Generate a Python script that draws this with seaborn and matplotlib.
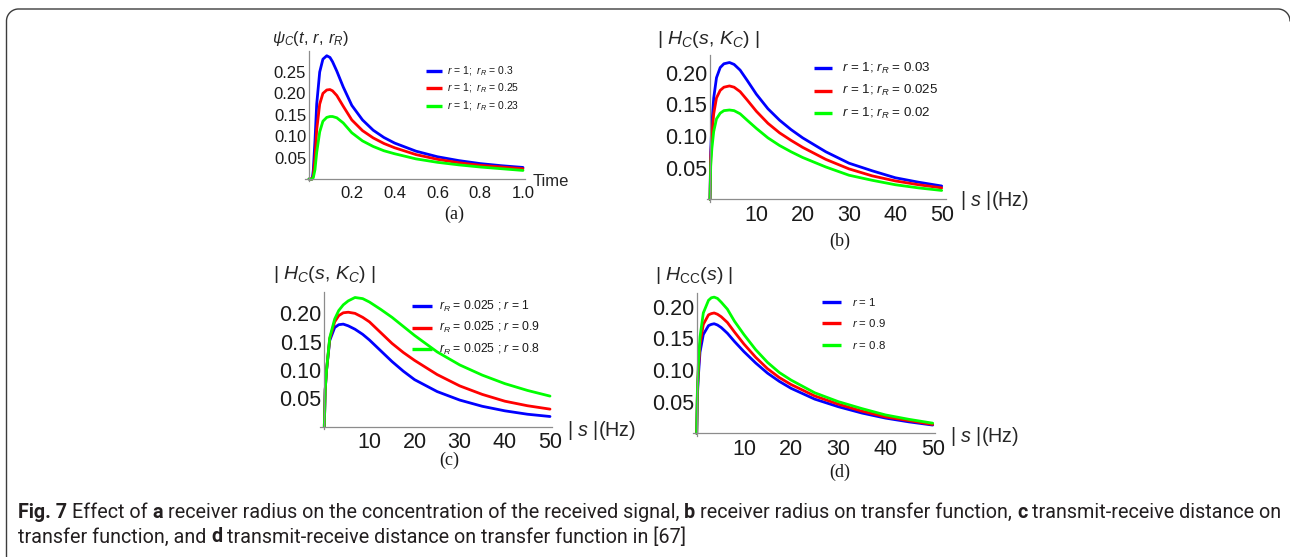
import numpy as np
import pandas as pd
import matplotlib
matplotlib.use("Agg")
import matplotlib.pyplot as plt
import seaborn as sns
from matplotlib.ticker import FixedLocator, MultipleLocator, FormatStrFormatter
from matplotlib.lines import Line2D

# ---------------- data ----------------
# (a) concentration vs time
t_a = [0, 0.015, 0.02, 0.028, 0.036, 0.05, 0.065, 0.083, 0.098, 0.11, 0.13, 0.16,
       0.2, 0.25, 0.3, 0.35, 0.4, 0.5, 0.6, 0.7, 0.8, 0.9, 1.0]
a_blue = [0, 0, 0.02, 0.09, 0.175, 0.25, 0.28, 0.288, 0.284, 0.274, 0.252, 0.215,
          0.172, 0.138, 0.114, 0.097, 0.084, 0.065, 0.052, 0.043, 0.036, 0.031, 0.027]
a_red = [0, 0, 0.008, 0.05, 0.115, 0.175, 0.200, 0.208, 0.209, 0.206, 0.195, 0.170,
         0.138, 0.113, 0.096, 0.083, 0.073, 0.057, 0.046, 0.038, 0.032, 0.028, 0.024]
a_green = [0, 0, 0.003, 0.022, 0.062, 0.110, 0.135, 0.144, 0.146, 0.146, 0.143, 0.131,
           0.108, 0.089, 0.076, 0.066, 0.059, 0.047, 0.039, 0.033, 0.028, 0.024, 0.020]
a_labels = [r"$r$ = 1;  $r_R$ = 0.3", r"$r$ = 1;  $r_R$ = 0.25", r"$r$ = 1;  $r_R$ = 0.23"]

# (b) transfer function, receiver radius
s_b = [0, 0.15, 0.4, 0.8, 1.4, 2.2, 3, 4.2, 5.2, 6.5, 8, 10, 12.5, 15, 17.5, 20, 25, 30, 35,
       40, 45, 50]
b_blue = [0, 0.075, 0.118, 0.160, 0.192, 0.208, 0.214, 0.216, 0.213, 0.204, 0.188, 0.166,
          0.143, 0.125, 0.110, 0.097, 0.075, 0.057, 0.045, 0.034, 0.027, 0.021]
b_red = [0, 0.065, 0.100, 0.135, 0.160, 0.172, 0.177, 0.179, 0.177, 0.170, 0.157, 0.139,
         0.120, 0.105, 0.093, 0.082, 0.063, 0.048, 0.037, 0.029, 0.023, 0.018]
b_green = [0, 0.052, 0.080, 0.107, 0.127, 0.136, 0.140, 0.141, 0.140, 0.135, 0.125, 0.112,
           0.097, 0.085, 0.075, 0.066, 0.051, 0.038, 0.030, 0.023, 0.018, 0.014]
b_labels = [r"$r$ = 1; $r_R$ = 0.03", r"$r$ = 1; $r_R$ = 0.025", r"$r$ = 1; $r_R$ = 0.02"]

# (c) transfer function, transmit-receive distance
s_c = [0, 0.2, 0.5, 1.2, 2.3, 3.2, 4.2, 5.3, 6.8, 8.5, 10, 12.5, 15, 17.5, 20, 25, 30, 35,
       40, 45, 50]
c_blue = [0, 0.065, 0.100, 0.152, 0.175, 0.180, 0.181, 0.178, 0.172, 0.163, 0.153, 0.134,
          0.115, 0.098, 0.083, 0.062, 0.047, 0.036, 0.028, 0.022, 0.018]
c_red = [0, 0.065, 0.100, 0.155, 0.185, 0.196, 0.201, 0.202, 0.200, 0.193, 0.185, 0.166,
         0.147, 0.131, 0.117, 0.092, 0.072, 0.057, 0.045, 0.037, 0.031]
c_green = [0, 0.065, 0.100, 0.157, 0.190, 0.205, 0.215, 0.222, 0.228, 0.226, 0.220, 0.207,
           0.193, 0.177, 0.161, 0.132, 0.109, 0.091, 0.076, 0.064, 0.054]
c_labels = [r"$r_R$ = 0.025 ; $r$ = 1", r"$r_R$ = 0.025 ; $r$ = 0.9", r"$r_R$ = 0.025 ; $r$ = 0.8"]

# (d) transfer function in [67]
s_d = [0, 0.15, 0.35, 0.7, 1.4, 2.5, 3.1, 3.7, 4.4, 5.2, 6.5, 8, 10, 12.5, 15, 17.5, 20, 25,
       30, 35, 40, 45, 50]
d_blue = [0, 0.06, 0.09, 0.128, 0.156, 0.170, 0.172, 0.173, 0.171, 0.167, 0.158, 0.145,
          0.129, 0.111, 0.095, 0.082, 0.071, 0.054, 0.042, 0.032, 0.024, 0.018, 0.013]
d_red = [0, 0.065, 0.10, 0.140, 0.172, 0.187, 0.189, 0.190, 0.188, 0.184, 0.175, 0.160,
         0.141, 0.120, 0.102, 0.088, 0.077, 0.059, 0.046, 0.035, 0.026, 0.020, 0.014]
d_green = [0, 0.07, 0.11, 0.152, 0.190, 0.210, 0.214, 0.215, 0.213, 0.207, 0.196, 0.177,
           0.156, 0.132, 0.112, 0.096, 0.084, 0.064, 0.050, 0.039, 0.029, 0.022, 0.016]
d_labels = [r"$r$ = 1", r"$r$ = 0.9", r"$r$ = 0.8"]

a_xticks = [0.2, 0.4, 0.6, 0.8, 1.0]
a_yticks = [0.05, 0.10, 0.15, 0.20, 0.25]
f_xticks = [10, 20, 30, 40, 50]
f_yticks = [0.05, 0.10, 0.15, 0.20]

COLORS = ["#0000ff", "#ff0000", "#00ff00"]

# ---------------- style ----------------
sns.set_theme(style="white")
plt.rcParams['font.family'] = ['Liberation Sans', 'DejaVu Sans']
plt.rcParams['mathtext.fontset'] = 'custom'
plt.rcParams['mathtext.rm'] = 'Liberation Sans'
plt.rcParams['mathtext.it'] = 'Liberation Sans:italic'
plt.rcParams['mathtext.bf'] = 'Liberation Sans:bold'

W, H = 1290, 557
fig = plt.figure(figsize=(W / 100, H / 100), dpi=100)
fig.patch.set_facecolor("white")
AX_COL = "#8c8c8c"


def make_ax(x0, sx, y0, sy, xlim, ylim, xt, yt, xfmt, yfmt, xminor, yminor, lsize, xpad):
    left = x0 + sx * xlim[0]
    right = x0 + sx * xlim[1]
    bottom = y0 - sy * ylim[0]
    top = y0 - sy * ylim[1]
    ax = fig.add_axes([left / W, 1 - bottom / H, (right - left) / W, (bottom - top) / H])
    ax.set_xlim(xlim)
    ax.set_ylim(ylim)
    ax.patch.set_alpha(0)
    for s in ['top', 'right']:
        ax.spines[s].set_visible(False)
    ax.spines['left'].set_position(('data', 0))
    ax.spines['bottom'].set_position(('data', 0))
    for s in ['left', 'bottom']:
        ax.spines[s].set_color(AX_COL)
        ax.spines[s].set_linewidth(0.9)
    ax.xaxis.set_major_locator(FixedLocator(xt))
    ax.yaxis.set_major_locator(FixedLocator(yt))
    ax.xaxis.set_minor_locator(MultipleLocator(xminor))
    ax.yaxis.set_minor_locator(MultipleLocator(yminor))
    ax.xaxis.set_major_formatter(FormatStrFormatter(xfmt))
    ax.yaxis.set_major_formatter(FormatStrFormatter(yfmt))
    ax.tick_params(which='both', direction='in', color=AX_COL, width=0.7,
                   labelcolor='#1a1a1a', labelsize=lsize)
    ax.tick_params(which='major', length=4)
    ax.tick_params(which='minor', length=2)
    ax.tick_params(axis='x', which='major', pad=xpad)
    ax.tick_params(axis='y', which='major', pad=2)
    return ax


def draw_curves(ax, x, ys):
    for y, c in zip(ys, COLORS):
        sns.lineplot(x=x, y=y, ax=ax, color=c, linewidth=2.0, sort=False,
                     estimator=None, legend=False)
    ax.set_xlabel("")
    ax.set_ylabel("")
    for ln in ax.get_lines():
        ln.set_solid_joinstyle('round')


def ftext(px, py, s, **kw):
    return fig.text(px / W, 1 - py / H, s, **kw)


def legend_rows(x1, x2, rows, xt, labels, fs):
    for py, lab, c in zip(rows, labels, COLORS):
        fig.add_artist(Line2D([x1 / W, x2 / W], [1 - py / H, 1 - py / H], color=c,
                              lw=2.4, solid_capstyle='butt'))
        ftext(xt, py, lab, fontsize=fs, va='center', ha='left', color='#1a1a1a')


# (a)
ax_a = make_ax(309, 214, 179, 428, (-0.02, 1.01), (-0.004, 0.30), a_xticks, a_yticks,
               '%.1f', '%.2f', 0.05, 0.01, 12, 5)
draw_curves(ax_a, t_a, [a_blue, a_red, a_green])
ftext(272, 39, r"$\psi_C(t,\, r,\, r_R)$", fontsize=12, va='center', ha='left')
ftext(533, 181, "Time", fontsize=12, va='center', ha='left')
legend_rows(426, 442, [71, 88, 106], 447, a_labels, 7.5)

# (b)
ax_b = make_ax(710, 4.634, 199.3, 633.3, (-0.6, 51), (-0.004, 0.228), f_xticks, f_yticks,
               '%d', '%.2f', 2, 0.01, 15.5, 4)
draw_curves(ax_b, s_b, [b_blue, b_red, b_green])
ftext(657, 40, r"| $H_C(s,\, K_C)$ |", fontsize=14, va='center', ha='left')
ftext(960, 201, r"| $s$ |(Hz)", fontsize=14.2, va='center', ha='left')
legend_rows(814, 832, [68.3, 90.7, 113.3], 842, b_labels, 9.6)

# (c)
ax_c = make_ax(324.3, 4.514, 426.7, 566.7, (-1.0, 50.5), (-0.004, 0.238), f_xticks, f_yticks,
               '%d', '%.2f', 2, 0.01, 15.5, 4)
draw_curves(ax_c, s_c, [c_blue, c_red, c_green])
ftext(273, 275, r"| $H_C(s,\, K_C)$ |", fontsize=14, va='center', ha='left')
ftext(567, 430, r"| $s$ |(Hz)", fontsize=14.2, va='center', ha='left')
legend_rows(412, 432, [306, 327.7, 349.3], 439, c_labels, 8.7)

# (d)
ax_d = make_ax(696.7, 4.72, 433.3, 633.3, (-0.7, 50.5), (-0.004, 0.2215), f_xticks, f_yticks,
               '%d', '%.2f', 2, 0.01, 15.5, 4)
draw_curves(ax_d, s_d, [d_blue, d_red, d_green])
ftext(655, 276, r"| $H_{\mathrm{CC}}(s)$ |", fontsize=14, va='center', ha='left')
ftext(950, 437, r"| $s$ |(Hz)", fontsize=14.2, va='center', ha='left')
legend_rows(822, 841, [301.7, 323.3, 345], 852, d_labels, 8.2)

# panel letters
serif = ['Liberation Serif', 'DejaVu Serif']
for (px, py, s) in [(454, 214, "(a)"), (840, 241, "(b)"), (449, 460, "(c)"), (840, 472, "(d)")]:
    ftext(px, py, s, fontsize=13, ha='center', va='center', family=serif, color='#1a1a1a')

# ---------------- caption ----------------
CAP_FONT = ['Roboto', 'DejaVu Sans']
CAP_COL = '#231f20'
line1 = [("Fig. 7", True), ("Effect of", False), ("a", True),
         ("receiver radius on the concentration of the received signal,", False),
         ("b", True), ("receiver radius on transfer function,", False), ("c", True),
         ("transmit-receive distance on", False)]
line2 = [("transfer function, and", False), ("d", True),
         ("transmit-receive distance on transfer function in [67]", False)]

renderer = fig.canvas.get_renderer()


def draw_caption_line(pieces, x_px, y_px, size, dry=False):
    arts = []
    tmp1 = ftext(0, -100, "x x", fontsize=size, family=CAP_FONT)
    tmp2 = ftext(0, -100, "xx", fontsize=size, family=CAP_FONT)
    space = tmp1.get_window_extent(renderer).width - tmp2.get_window_extent(renderer).width
    tmp1.remove(); tmp2.remove()
    x = x_px
    for txt, bold in pieces:
        t = ftext(x, y_px, txt, fontsize=size, family=CAP_FONT,
                  fontweight='bold' if bold else 'normal', va='center', ha='left',
                  color=CAP_COL)
        w = t.get_window_extent(renderer).width
        arts.append(t)
        x += w + space
    total = x - space - x_px
    if dry:
        for a in arts:
            a.remove()
    return total


base = 11.0
w1 = draw_caption_line(line1, 18, 512, base, dry=True)
cap_size = base * (1276 - 18) / w1
draw_caption_line(line1, 18, 512, cap_size)
draw_caption_line(line2, 18, 537, cap_size)

# ---------------- frame ----------------
r = 12
th = np.linspace(np.pi, np.pi / 2, 30)
xs = [6.5] + list(6.5 + r + r * np.cos(th))
ys = [557] + list(9 + r - r * np.sin(th))
th2 = np.linspace(np.pi / 2, 0, 30)
xs += list(1278 + r * np.cos(th2))
ys += list(9 + r - r * np.sin(th2))
fig.add_artist(Line2D([x / W for x in xs], [1 - y / H for y in ys], color='#3c3c3c',
                      lw=1.0))

fig.savefig("out.png", dpi=100, facecolor='white')
